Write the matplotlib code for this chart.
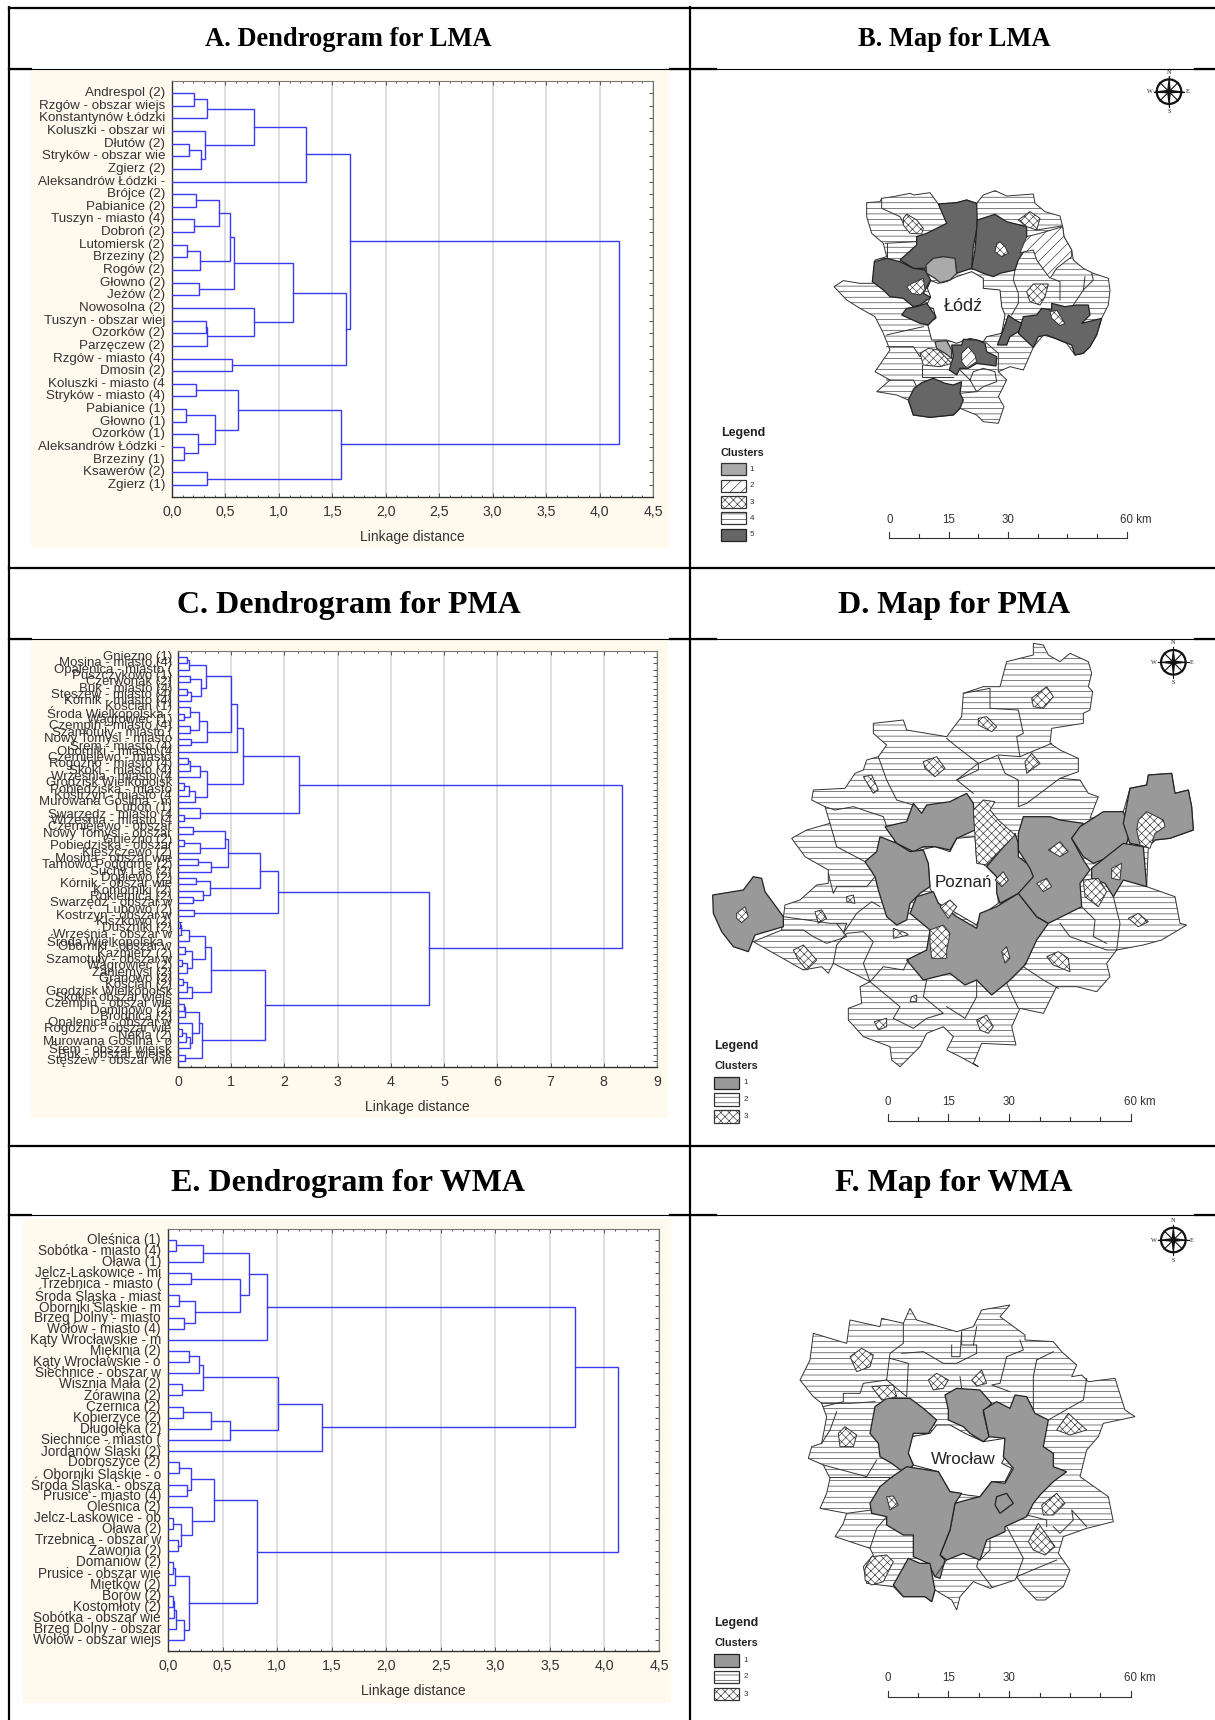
import matplotlib
matplotlib.use("Agg")
import matplotlib.pyplot as plt
from matplotlib.patches import Polygon, Rectangle, Circle
from matplotlib.ticker import MultipleLocator

W, H = 1215, 1720

plt.rcParams['font.family'] = ['Liberation Sans', 'DejaVu Sans']
plt.rcParams['hatch.linewidth'] = 0.45

# ---- dendrogram data: (height, left, right), ints are leaf positions
labels_a = ["Andrespol (2)", "Rzgów - obszar wiejs", "Konstantynów Łódzki", "Koluszki - obszar wi",
	"Dłutów (2)", "Stryków - obszar wie", "Zgierz (2)", "Aleksandrów Łódzki -", "Brójce (2)",
	"Pabianice (2)", "Tuszyn - miasto (4)", "Dobroń (2)", "Lutomiersk (2)", "Brzeziny (2)", "Rogów (2)",
	"Głowno (2)", "Jeżów (2)", "Nowosolna (2)", "Tuszyn - obszar wiej", "Ozorków (2)", "Parzęczew (2)",
	"Rzgów - miasto (4)", "Dmosin (2)", "Koluszki - miasto (4", "Stryków - miasto (4)", "Pabianice (1)",
	"Głowno (1)", "Ozorków (1)", "Aleksandrów Łódzki -", "Brzeziny (1)", "Ksawerów (2)", "Zgierz (1)"]
tree_a = (4.18,
	(1.665,
		(1.25, (0.77, (0.325, (0.21, 0, 1), 2), (0.31, 3, (0.275, (0.16, 4, 5), 6))), 7),
		(1.625,
			(1.135,
				(0.58, (0.54, (0.44, (0.225, 8, 9), (0.21, 10, 11)), (0.265, (0.14, 12, 13), 14)), (0.255, 15, 16)),
				(0.765, 17, (0.33, (0.315, 18, 19), 20))),
			(0.56, 21, 22))),
	(1.585,
		(0.62, (0.225, 23, 24), (0.40, (0.13, 25, 26), (0.245, 27, (0.11, 28, 29)))),
		(0.33, 30, 31)))

labels_c = ["Gniezno (1)", "Mosina - miasto (4)", "Opalenica - miasto (", "Puszczykowo (1)", "Czerwonak (2)",
	"Buk - miasto (4)", "Stęszew - miasto (4)", "Kórnik - miasto (4)", "Kościan (1)", "Środa Wielkopolska -",
	"Wągrowiec (1)", "Czempiń - miasto (4)", "Szamotuły - miasto (", "Nowy Tomyśl - miasto", "Śrem - miasto (4)",
	"Oborniki - miasto (4", "Czerniejewo - miasto", "Rogoźno - miasto (4)", "Skoki - miasto (4)",
	"Września - miasto (4", "Grodzisk Wielkopolsk", "Pobiedziska - miasto", "Kostrzyn - miasto (4",
	"Murowana Goślina - m", "Luboń (1)", "Swarzędz - miasto (4", "Września - miasto (4",
	"Czerniejewo - obszar", "Nowy Tomyśl - obszar", "Gniezno (2)", "Pobiedziska - obszar", "Kleszczewo (2)",
	"Mosina - obszar wie", "Tarnowo Podgórne (2)", "Suchy Las (2)", "Dopiewo (2)", "Kórnik - obszar wie",
	"Komorniki (2)", "Rokietnica (2)", "Swarzędz - obszar w", "Lubowo (2)", "Kostrzyn - obszar w",
	"Kiszkowo (2)", "Duszniki (2)", "Września - obszar w", "Środa Wielkopolska -", "Oborniki - obszar w",
	"Kaźmierz (2)", "Szamotuły - obszar w", "Wągrowiec (2)", "Zaniemyśl (2)", "Granowo (2)", "Kościan (2)",
	"Grodzisk Wielkopolsk", "Skoki - obszar wiejs", "Czempiń - obszar wie", "Dominowo (2)", "Brodnica (2)",
	"Opalenica - obszar w", "Rogoźno - obszar wie", "Nekla (2)", "Murowana Goślina - o", "Śrem - obszar wiejsk",
	"Buk - obszar wiejsk", "Stęszew - obszar wie"]
tree_c = (8.35,
	(2.27,
		(1.22,
			(1.11,
				(1.0,
					(0.52, (0.21, (0.16, 0, 1), 2), (0.43, (0.22, 3, 4), (0.24, (0.16, 5, 6), 7))),
					(0.54, (0.39, (0.22, 8, (0.12, 9, 10)), (0.23, 11, 12)), (0.25, 13, 14))),
				15),
			(0.54,
				(0.41, (0.23, (0.19, 16, 17), 18), 19),
				(0.325, (0.2, (0.12, 20, 21), 22), 23))),
		(0.41, 24, (0.12, 25, 26))),
	(4.71,
		(1.875,
			(1.55,
				(0.94,
					(0.89, (0.275, 27, 28), (0.41, (0.12, 29, 30), 31)),
					(0.62, (0.37, 32, 33), 34)),
				(0.6, (0.34, 35, 36), (0.47, 37, (0.29, 38, 39)))),
			(0.31, 40, 41)),
		(1.63,
			(0.62,
				(0.5,
					(0.21, (0.06, (0.03, 42, 43), 44), 45),
					(0.255, (0.14, 46, 47), (0.175, (0.08, 48, 49), 50))),
				(0.255, (0.175, (0.1, 51, 52), 53), 54)),
			(0.45,
				(0.39, (0.14, (0.12, 55, 56), 57), (0.255, 58, (0.22, (0.155, (0.08, 59, 60), 61), 62))),
				(0.14, 63, 64)))))

labels_e = ["Oleśnica (1)", "Sobótka - miasto (4)", "Oława (1)", "Jelcz-Laskowice - mi", "Trzebnica - miasto (",
	"Środa Śląska - miast", "Oborniki Śląskie - m", "Brzeg Dolny - miasto", "Wołów - miasto (4)",
	"Kąty Wrocławskie - m", "Miękinia (2)", "Kąty Wrocławskie - o", "Siechnice - obszar w", "Wisznia Mała (2)",
	"Żórawina (2)", "Czernica (2)", "Kobierzyce (2)", "Długołęka (2)", "Siechnice - miasto (",
	"Jordanów Śląski (2)", "Dobroszyce (2)", "Oborniki Śląskie - o", "Środa Śląska - obsza", "Prusice - miasto (4)",
	"Oleśnica (2)", "Jelcz-Laskowice - ob", "Oława (2)", "Trzebnica - obszar w", "Zawonia (2)", "Domaniów (2)",
	"Prusice - obszar wie", "Miętków (2)", "Borów (2)", "Kostomłoty (2)", "Sobótka - obszar wie",
	"Brzeg Dolny - obszar", "Wołów - obszar wiejs"]
tree_e = (4.12,
	(3.73,
		(0.91,
			(0.74,
				(0.32, (0.07, 0, 1), 2),
				(0.66, (0.21, 3, 4), (0.25, (0.10, 5, 6), (0.145, 7, 8)))),
			9),
		(1.415,
			(1.01,
				(0.32, (0.28, (0.19, 10, 11), 12), (0.125, 13, 14)),
				(0.565, (0.39, (0.135, 15, 16), 17), 18)),
			19)),
	(0.815,
		(0.42,
			(0.21, (0.105, 20, 21), (0.175, 22, 23)),
			(0.22, 24, (0.115, (0.05, 25, 26), (0.09, 27, 28)))),
		(0.19,
			(0.06, (0.05, 29, 30), 31),
			(0.15, (0.07, (0.055, (0.05, 32, 33), 34), 35), 36))))

ticks_half = ["0,0", "0,5", "1,0", "1,5", "2,0", "2,5", "3,0", "3,5", "4,0", "4,5"]
ticks_int = ["0", "1", "2", "3", "4", "5", "6", "7", "8", "9"]

# ---- map data, in units of a 1575x1500 grid laid over each map cell
b_outer = [(530,428),(570,425),(575,415),(610,410),(660,400),(672,405),(720,398),(745,432),(800,428),(830,420),(860,430),(880,405),(915,392),(950,408),(1030,402),(1035,430),(1065,455),(1110,468),(1118,500),(1122,530),(1145,570),(1150,600),(1180,625),(1210,640),(1255,655),(1260,690),(1255,735),(1235,775),(1220,825),(1200,860),(1180,880),(1155,885),(1130,850),(1095,835),(1060,825),(1030,862),(1000,930),(960,920),(925,935),(950,960),(925,1010),(942,1040),(925,1090),(880,1085),(860,1065),(810,1045),(790,1065),(720,1072),(670,1065),(655,1020),(620,1005),(560,995),(600,960),(555,935),(600,870),(580,820),(555,770),(510,745),(470,720),(432,680),(460,662),(510,670),(550,670),(555,600),(590,590),(580,550),(545,520),(530,470)]
b_center = [(722,662),(745,670),(770,665),(800,650),(845,635),(880,655),(880,685),(930,690),(935,740),(945,765),(935,820),(890,830),(880,845),(840,835),(800,850),(770,840),(725,840),(712,790),(738,775),(730,745),(708,740),(722,710),(712,685)]
b_dark = [
	[(745,432),(800,428),(830,420),(860,430),(862,500),(850,560),(845,625),(800,640),(795,600),(760,590),(725,600),(705,625),(670,625),(630,600),(680,555),(680,530),(710,520),(770,490)],
	[(862,480),(915,463),(950,485),(1010,500),(1010,560),(985,600),(975,630),(930,640),(910,650),(880,640),(845,625),(855,570)],
	[(553,605),(590,595),(630,605),(670,625),(705,630),(722,660),(700,700),(722,712),(690,735),(670,740),(640,715),(600,710),(580,690),(547,665)],
	[(650,745),(680,740),(710,730),(738,770),(715,795),(690,790),(635,765)],
	[(1000,770),(1040,765),(1055,745),(1085,750),(1085,730),(1125,740),(1160,735),(1195,735),(1200,765),(1175,790),(1235,775),(1220,825),(1200,860),(1180,880),(1155,885),(1145,855),(1095,835),(1070,825),(1045,830),(1030,862),(985,820)],
	[(955,765),(975,780),(995,790),(985,815),(960,830),(950,855),(922,855),(940,810)],
	[(785,855),(815,855),(820,838),(860,840),(885,850),(890,875),(920,890),(918,918),(860,910),(835,925),(810,925),(800,945),(778,930),(790,890)],
	[(672,985),(695,968),(730,955),(765,970),(790,975),(815,965),(810,1000),(820,1020),(810,1045),(790,1065),(720,1072),(670,1065),(655,1020)],
]
b_light = [
	[(708,615),(730,595),(760,590),(795,595),(800,640),(780,660),(750,668),(735,655),(710,640)],
	[(735,845),(770,842),(785,870),(785,895),(765,880),(740,865)],
]
b_diag = [
	[(990,578),(1010,530),(1050,520),(1118,500),(1122,530),(1145,570),(1145,590),(1100,625),(1080,655),(1065,635),(1040,600),(1030,570)],
	[(815,880),(835,860),(855,885),(860,905),(830,925),(815,905)],
]
b_cross = [
	[(640,475),(650,462),(680,480),(700,505),(695,522),(660,520),(640,495)],
	[(920,550),(930,545),(945,560),(955,580),(935,590),(915,575)],
	[(985,480),(1020,455),(1050,475),(1040,510),(1010,500)],
	[(650,680),(670,668),(700,655),(705,690),(690,705),(665,700)],
	[(1010,695),(1030,672),(1075,672),(1065,710),(1050,735),(1020,725)],
	[(1080,755),(1100,750),(1125,790),(1110,797),(1085,775)],
	[(690,880),(715,865),(745,870),(785,910),(750,920),(700,915)],
]
b_lines = [
	[(575,415),(575,445),(630,470),(640,490)],
	[(585,550),(680,545)],
	[(590,595),(590,550)],
	[(1040,510),(1115,498)],
	[(975,630),(970,660),(985,700),(985,730),(965,765)],
	[(1085,655),(1110,665),(1110,720)],
	[(1185,650),(1180,690),(1150,735)],
	[(1205,640),(1210,660),(1180,690)],
	[(590,825),(610,820),(700,800)],
	[(590,860),(670,860),(690,890)],
	[(695,915),(695,950),(790,950)],
	[(810,930),(840,960),(860,995),(880,980),(920,965),(915,935),(880,925),(850,935),(840,960)],
	[(810,1000),(860,995)],
	[(590,960),(670,960),(680,980)],
	[(885,845),(925,880),(925,935)],
]

d_outer = [(1030,40),(1060,45),(1075,75),(1110,95),(1140,70),(1195,95),(1205,130),(1195,170),(1208,185),(1200,240),(1180,250),(1180,280),(1085,295),(1080,340),(1110,360),(1165,385),(1165,425),(1110,445),(1170,450),(1195,490),(1225,500),(1200,565),(1300,545),(1320,475),(1370,465),(1375,435),(1445,430),(1455,490),(1495,480),(1505,530),(1510,600),(1440,625),(1395,630),(1375,650),(1370,770),(1455,800),(1470,880),(1490,885),(1415,930),(1360,945),(1280,960),(1250,1000),(1260,1040),(1220,1085),(1160,1070),(1100,1070),(1060,1150),(990,1135),(965,1190),(978,1245),(875,1240),(850,1300),(865,1310),(810,1280),(770,1260),(790,1220),(760,1190),(710,1210),(690,1250),(630,1310),(605,1290),(600,1250),(520,1220),(475,1170),(475,1135),(515,1120),(510,1070),(540,1055),(430,1000),(415,1030),(395,1010),(340,1020),(190,935),(275,900),(285,825),(330,810),(380,765),(415,760),(415,720),(345,680),(305,625),(350,600),(420,580),(405,530),(365,510),(370,480),(465,475),(495,430),(520,420),(530,390),(565,380),(590,345),(550,310),(550,280),(640,270),(650,300),(770,320),(815,260),(820,190),(880,170),(930,170),(950,95),(1030,75)]
d_center = [(735,650),(780,665),(800,625),(855,620),(860,690),(890,710),(920,740),(925,820),(875,855),(860,885),(800,850),(745,820),(720,775),(715,700),(690,660)]
d_gray = [
	[(68,795),(160,780),(190,740),(215,745),(225,785),(280,860),(280,890),(195,915),(175,965),(130,950),(95,905),(70,850)],
	[(585,590),(650,575),(670,520),(695,550),(710,525),(780,515),(830,490),(850,520),(855,600),(800,625),(780,660),(735,650),(700,650),(670,665),(620,640)],
	[(570,620),(620,640),(660,665),(700,660),(715,700),(720,770),(690,790),(660,820),(650,870),(620,885),(590,860),(565,780),(555,740),(525,695),(560,665)],
	[(660,850),(680,800),(730,785),(745,820),(800,860),(860,895),(870,850),(920,830),(985,790),(1040,860),(1075,880),(1040,930),(1010,995),(1000,1010),(960,1050),(905,1095),(860,1050),(825,1065),(780,1030),(700,1050),(650,990),(710,960),(720,900)],
	[(890,710),(975,610),(985,640),(985,680),(1030,715),(1040,760),(985,790),(930,820),(920,790),(920,740)],
	[(1000,560),(1080,560),(1110,570),(1180,580),(1145,625),(1180,690),(1200,720),(1170,760),(1175,830),(1075,880),(1040,860),(985,790),(1030,740),(1020,715),(985,660),(985,610)],
	[(1170,590),(1240,545),(1300,545),(1320,605),(1310,640),(1260,680),(1210,700),(1180,680),(1145,625)],
	[(1205,715),(1300,640),(1360,650),(1370,770),(1300,750),(1270,800),(1245,760),(1205,745)],
	[(1320,475),(1370,465),(1375,435),(1445,430),(1455,490),(1495,480),(1505,530),(1510,600),(1440,625),(1395,630),(1375,650),(1320,640),(1300,580)],
]
d_cross = [
	[(850,540),(880,510),(915,515),(900,540),(925,570),(975,615),(890,705),(860,700),(855,620)],
	[(140,850),(165,830),(175,860),(155,878),(140,865)],
	[(375,845),(395,840),(410,865),(385,880)],
	[(310,960),(340,945),(380,990),(350,1020),(325,990)],
	[(470,800),(490,795),(495,820),(470,815)],
	[(520,440),(545,435),(565,480),(550,490)],
	[(700,395),(740,380),(765,415),(735,440),(705,415)],
	[(865,265),(890,260),(920,290),(905,305),(865,285)],
	[(1025,205),(1070,170),(1090,200),(1060,235),(1030,230)],
	[(1005,395),(1025,370),(1050,400),(1010,430)],
	[(1075,660),(1110,635),(1135,665),(1110,680)],
	[(1040,760),(1070,745),(1085,770),(1060,785)],
	[(915,750),(940,725),(955,750),(935,770)],
	[(750,830),(780,810),(800,830),(775,865)],
	[(720,900),(760,885),(780,910),(770,960),(770,985),(725,985),(720,940)],
	[(935,965),(950,950),(960,985),(945,1000)],
	[(610,895),(650,910),(655,915),(610,925)],
	[(1180,750),(1225,745),(1250,785),(1225,830),(1185,800)],
	[(1345,570),(1370,545),(1420,570),(1425,590),(1395,610),(1380,655),(1350,645),(1340,600)],
	[(1265,715),(1295,700),(1290,750),(1265,745)],
	[(1315,865),(1345,850),(1375,875),(1345,890)],
	[(1070,980),(1105,965),(1135,985),(1140,1025),(1090,1005)],
	[(665,1100),(680,1095),(680,1115),(660,1115)],
	[(553,1175),(590,1165),(590,1190),(565,1200)],
	[(860,1170),(890,1155),(910,1190),(895,1210),(870,1200)],
]
d_lines = [
	[(820,190),(900,175),(900,235),(985,240),(1000,310),(980,320),(990,380),(1085,340)],
	[(770,325),(800,350),(865,400),(865,420),(800,450),(850,490)],
	[(565,380),(590,450),(620,510),(670,525)],
	[(405,530),(435,540),(490,530),(580,560),(590,590)],
	[(420,580),(440,650),(525,695)],
	[(415,730),(430,790),(440,770),(530,770),(555,740)],
	[(925,380),(945,430),(985,450),(985,530),(1010,520),(1110,445)],
	[(800,450),(865,400),(925,375),(990,380)],
	[(280,860),(420,880),(470,880),(460,910),(500,850),(545,815),(570,830)],
	[(440,880),(470,920),(410,940),(370,920),(340,900),(275,900)],
	[(430,1000),(440,945),(470,910),(520,905),(550,935),(520,1000),(540,1055),(580,1010),(640,1020),(655,990)],
	[(540,1055),(630,1130),(610,1165),(670,1195),(710,1165),(760,1150),(700,1100),(710,1050)],
	[(860,1050),(860,1100),(825,1165),(770,1130)],
	[(950,1060),(985,1135)],
	[(950,1060),(1010,1000)],
	[(1110,880),(1140,920),(1250,960),(1280,960)],
	[(1175,830),(1215,870),(1210,920),(1250,940)],
	[(1270,800),(1290,880),(1280,960)],
	[(1000,1010),(1060,1050),(1105,1075)],
]

f_outer = [(370,340),(470,370),(480,300),(570,320),(575,295),(640,310),(660,265),(680,300),(800,335),(850,320),(875,270),(960,255),(930,290),(1005,345),(1005,360),(1090,365),(1115,395),(1160,435),(1145,470),(1175,465),(1195,485),(1275,475),(1305,570),(1335,590),(1240,610),(1225,650),(1190,690),(1170,770),(1255,830),(1270,905),(1190,925),(1120,950),(1105,1000),(1140,1050),(1120,1100),(1065,1140),(1040,1140),(1000,1100),(980,1070),(975,1080),(900,1105),(850,1085),(810,1130),(800,1170),(785,1140),(735,1110),(725,1145),(705,1130),(640,1130),(610,1100),(530,1090),(520,1040),(550,1005),(540,985),(435,950),(460,910),(470,880),(390,865),(410,820),(420,775),(400,735),(355,715),(365,680),(395,670),(410,590),(395,550),(370,530),(330,480),(360,420)]
f_center = [(665,650),(720,640),(740,615),(780,615),(825,640),(880,665),(945,655),(945,710),(935,730),(965,745),(945,785),(905,785),(870,830),(830,825),(780,815),(745,755),(670,735),(655,700),(650,690)]
f_gray = [
	[(555,560),(590,535),(660,535),(700,565),(740,600),(715,640),(670,640),(655,700),(670,735),(645,760),(605,730),(570,710),(565,670),(540,640)],
	[(765,525),(800,505),(870,510),(905,550),(880,575),(897,650),(880,665),(840,640),(820,620),(775,600),(775,570)],
	[(880,570),(920,545),(960,565),(975,525),(1010,530),(1035,580),(1075,600),(1060,680),(1090,700),(1090,740),(1130,755),(1090,785),(1050,825),(1030,850),(1010,890),(945,920),(945,935),(890,960),(870,1020),(820,1000),(770,1020),(750,1005),(780,930),(795,850),(830,840),(870,830),(905,785),(945,790),(970,745),(940,710),(945,655),(897,650)],
	[(600,775),(650,740),(745,755),(780,815),(815,820),(795,850),(780,930),(750,1005),(765,1020),(750,1075),(735,1070),(715,1030),(670,1010),(670,945),(640,945),(590,915),(590,890),(545,880),(540,850),(570,800)],
	[(655,1015),(690,1030),(720,1030),(735,1110),(725,1145),(705,1130),(640,1130),(610,1095)],
	[(920,830),(950,820),(970,850),(930,880),(915,855)],
]
f_cross = [
	[(480,410),(515,385),(550,405),(540,440),(500,455)],
	[(715,480),(740,460),(775,480),(760,505),(730,510)],
	[(845,480),(875,450),(890,490),(860,498)],
	[(545,500),(610,495),(620,530),(575,540)],
	[(445,640),(465,620),(500,645),(490,680),(450,680)],
	[(590,830),(610,828),(625,855),(600,870)],
	[(1100,630),(1135,580),(1190,630),(1140,645)],
	[(1055,855),(1100,820),(1125,850),(1090,885),(1060,885)],
	[(1015,965),(1045,910),(1095,980),(1065,1005),(1030,990)],
	[(545,1010),(590,1005),(610,1025),(580,1085),(545,1095),(525,1080),(525,1045)],
]
f_lines = [
	[(640,310),(640,370),(600,400),(590,480),(650,530),(655,430),(600,415)],
	[(635,400),(700,395),(760,430),(800,430),(860,400),(860,375),(815,375),(815,340)],
	[(785,375),(785,410),(810,410),(815,335)],
	[(860,320),(850,375)],
	[(810,470),(815,505)],
	[(990,360),(1000,390),(950,410),(930,490),(905,495),(960,515)],
	[(1040,420),(1030,470),(1030,570)],
	[(1090,395),(1040,420)],
	[(1190,475),(1180,540),(1075,600)],
	[(590,480),(520,490),(510,520),(460,520),(460,545),(400,560)],
	[(555,545),(480,550),(395,550)],
	[(440,575),(420,630),(395,670)],
	[(400,735),(530,770),(560,720)],
	[(420,770),(605,770)],
	[(470,880),(545,870)],
	[(590,890),(560,925),(540,985)],
	[(735,1070),(770,1020)],
	[(865,1020),(860,1040),(905,1100)],
	[(900,960),(900,990),(870,1020)],
	[(950,920),(1000,1015),(980,1070),(1100,1020)],
	[(1010,885),(1070,900),(1070,920)],
	[(1090,920),(1110,940),(1150,900),(1145,870),(1190,920)],
]

# legend swatches per map: top, bottom of each row
b_legend_rows = [(1210,1245),(1260,1295),(1308,1345),(1357,1393),(1407,1443)]
d_legend_rows = [(1340,1378),(1390,1428),(1440,1478)]
f_legend_rows = [(1302,1340),(1352,1390),(1403,1441)]

STYLES = {
	'dark': dict(facecolor='#666666', edgecolor='#222222'),
	'gray': dict(facecolor='#999999', edgecolor='#222222'),
	'light': dict(facecolor='#aaaaaa', edgecolor='#333333'),
	'hline': dict(facecolor='white', edgecolor='#333333', hatch='---'),
	'cross': dict(facecolor='white', edgecolor='#333333', hatch='xxxx'),
	'diag': dict(facecolor='white', edgecolor='#333333', hatch='///'),
	'white': dict(facecolor='white', edgecolor='#222222'),
}


def px_axes(fig, x0, y0, x1, y1):
	return fig.add_axes([x0 / W, 1 - y1 / H, (x1 - x0) / W, (y1 - y0) / H])


def draw_node(ax, node):
	if isinstance(node, int):
		return 0.0, float(node)
	h, left, right = node
	hl, yl = draw_node(ax, left)
	hr, yr = draw_node(ax, right)
	ax.plot([hl, h, h, hr], [yl, yl, yr, yr], color='#3a3af5', lw=1.0, solid_joinstyle='miter', zorder=3)
	return h, (yl + yr) / 2


def dendrogram(fig, box, labels, tree, ticks, step, minor, fs, lab_x):
	ax = px_axes(fig, *box)
	n = len(labels)
	ax.set_xlim(0, (len(ticks) - 1) * step)
	ax.set_ylim(n - 1 + 0.95, -0.95)
	ax.grid(axis='x', color='#d4d4d4', lw=1.1, zorder=0)
	ax.set_axisbelow(True)
	draw_node(ax, tree)
	ax.set_xticks([i * step for i in range(len(ticks))])
	ax.set_xticklabels(ticks, fontsize=10.2, color='#333333')
	ax.xaxis.set_minor_locator(MultipleLocator(minor))
	ax.set_yticks(range(n))
	ax.set_yticklabels([])
	ax.tick_params(axis='both', which='both', direction='in', top=True, right=True, length=3, width=0.7, color='#555555')
	ax.tick_params(axis='x', which='minor', length=1.5)
	ax.tick_params(axis='x', which='major', pad=6)
	for side in ('left', 'bottom'):
		ax.spines[side].set_color('#333333')
		ax.spines[side].set_linewidth(1.0)
	for side in ('top', 'right'):
		ax.spines[side].set_color('#777777')
		ax.spines[side].set_linewidth(0.8)
	ax.set_xlabel("Linkage distance", fontsize=10, color='#333333', labelpad=8)
	# row labels, overlapping where the rows are tight, as in the source
	for i, name in enumerate(labels):
		ax.annotate(name, xy=(0, i), xycoords=ax.get_yaxis_transform(), xytext=(lab_x, 0),
			textcoords='offset pixels', ha='right', va='center', fontsize=fs, color='#333333', annotation_clip=False)
	return ax


def compass(ax, cx, cy, r):
	ax.add_patch(Circle((cx, cy), r * 0.8, fill=False, ec='#111111', lw=1.6))
	for dx, dy in [(1, 0), (0, 1), (0.6, 0.6), (0.6, -0.6)]:
		ax.plot([cx - dx * r, cx + dx * r], [cy - dy * r, cy + dy * r], color='#111111', lw=0.8)
	for dx, dy in [(1, 0), (-1, 0), (0, 1), (0, -1)]:
		ax.add_patch(Polygon([(cx + dx * r * 1.05, cy + dy * r * 1.05), (cx - dy * 6, cy + dx * 6), (cx + dy * 6, cy - dx * 6)],
			closed=True, facecolor='#111111', edgecolor='none'))
	for t, x, y in [('N', cx, cy - r - 12), ('S', cx, cy + r + 14), ('W', cx - r - 12, cy), ('E', cx + r + 10, cy)]:
		ax.text(x, y, t, fontsize=4.5, family='Liberation Serif', ha='center', va='center', color='#222222')


def scale_bar(ax, x0, x1, y, label_y):
	step = (x1 - x0) / 8
	ax.plot([x0, x1], [y, y], color='#333333', lw=0.8)
	for i in range(9):
		tall = i in (0, 2, 4, 8)
		ax.plot([x0 + i * step] * 2, [y, y - (20 if tall else 12)], color='#333333', lw=0.8)
	for i, t in [(0, '0'), (2, '15'), (4, '30')]:
		ax.text(x0 + i * step, label_y, t, fontsize=8.3, ha='center', va='center', color='#333333')
	ax.text(x1 + 27, label_y, '60 km', fontsize=8.3, ha='center', va='center', color='#333333')


def legend(ax, x0, rows, styles, leg_y, clu_y):
	ax.text(x0, leg_y, 'Legend', fontsize=9, fontweight='bold', va='center', color='#222222')
	ax.text(x0, clu_y, 'Clusters', fontsize=7.8, fontweight='bold', va='center', color='#222222')
	for i, (top, bot) in enumerate(rows):
		ax.add_patch(Polygon([(x0, top), (x0 + 75, top), (x0 + 75, bot), (x0, bot)], closed=True, lw=0.9, **STYLES[styles[i]]))
		ax.text(x0 + 94, (top + bot) / 2, str(i + 1), fontsize=5.8, ha='center', va='center', color='#333333')


def map_panel(fig, x0, y0, outer, center, layers, lines, name, name_xy, name_fs):
	ax = px_axes(fig, x0, y0, x0 + 525, y0 + 500)
	ax.set_xlim(0, 1575)
	ax.set_ylim(1500, 0)
	ax.axis('off')
	ax.patch.set_alpha(0)
	ax.add_patch(Polygon(outer, closed=True, lw=0.7, **STYLES['hline']))
	for seg in lines:
		ax.plot([p[0] for p in seg], [p[1] for p in seg], color='#333333', lw=0.7)
	ax.add_patch(Polygon(center, closed=True, lw=0.7, **STYLES['white']))
	for style, polys in layers:
		for poly in polys:
			ax.add_patch(Polygon(poly, closed=True, lw=0.9 if style in ('dark', 'gray', 'light') else 0.7, **STYLES[style]))
	ax.text(name_xy[0], name_xy[1], name, fontsize=name_fs, ha='center', va='center', color='#222222')
	return ax


def table(bg):
	cell_tops = [8, 69, 568, 639, 1146, 1215]
	for y in cell_tops:
		thin = y in (69, 639, 1215)
		bg.plot([9, W], [y, y], color='black', lw=0.8 if thin else 1.6, zorder=5)
		if thin:
			bg.plot([9, 31], [y, y], color='black', lw=1.6, zorder=5)
			bg.plot([670, 716], [y, y], color='black', lw=1.6, zorder=5)
			bg.plot([1195, W], [y, y], color='black', lw=1.6, zorder=5)
	bg.plot([9, 9], [7, H], color='black', lw=1.6, zorder=5)
	bg.plot([690, 690], [7, H], color='black', lw=1.6, zorder=5)


def main():
	fig = plt.figure(figsize=(W / 100, H / 100), dpi=100, facecolor='white')
	bg = fig.add_axes([0, 0, 1, 1])
	bg.set_xlim(0, W)
	bg.set_ylim(H, 0)
	bg.axis('off')
	for x0, y0, x1, y1 in [(31, 70, 669, 548), (31, 640, 668, 1118), (23, 1219, 671, 1703)]:
		bg.add_patch(Rectangle((x0, y0), x1 - x0, y1 - y0, facecolor='#fff9ee', edgecolor='none'))
	table(bg)

	title_kw = dict(family='Liberation Serif', fontweight='bold', ha='center', va='center', color='black')
	bg.text(348, 40, "A. Dendrogram for LMA", fontsize=19.1, **title_kw)
	bg.text(954, 40, "B. Map for LMA", fontsize=19.1, **title_kw)
	bg.text(349, 606, "C. Dendrogram for PMA", fontsize=23, **title_kw)
	bg.text(954, 606, "D. Map for PMA", fontsize=23, **title_kw)
	bg.text(348, 1184, "E. Dendrogram for WMA", fontsize=23, **title_kw)
	bg.text(954, 1184, "F. Map for WMA", fontsize=23, **title_kw)

	dendrogram(fig, (172, 81, 653, 497), labels_a, tree_a, ticks_half, 0.5, 0.1, 9.6, -7)
	dendrogram(fig, (178, 651, 657, 1067), labels_c, tree_c, ticks_int, 1, 0.25, 9.5, -6)
	dendrogram(fig, (168, 1229, 659, 1651), labels_e, tree_e, ticks_half, 0.5, 0.1, 9.8, -7)

	ax = map_panel(fig, 690, 60, b_outer, b_center,
		[('dark', b_dark), ('light', b_light), ('diag', b_diag), ('cross', b_cross)], b_lines, 'Łódź', (820, 740), 13)
	legend(ax, 92, b_legend_rows, ['light', 'diag', 'cross', 'hline', 'dark'], 1120, 1178)
	scale_bar(ax, 598, 1310, 1435, 1380)
	compass(ax, 1437, 95, 46)

	ax = map_panel(fig, 690, 630, d_outer, d_center,
		[('gray', d_gray), ('cross', d_cross)], d_lines, 'Poznań', (820, 757), 12.2)
	legend(ax, 73, d_legend_rows, ['gray', 'hline', 'cross'], 1248, 1308)
	scale_bar(ax, 593, 1322, 1472, 1415)
	compass(ax, 1450, 97, 46)

	ax = map_panel(fig, 690, 1220, f_outer, f_center,
		[('gray', f_gray), ('cross', f_cross)], f_lines, 'Wrocław', (820, 718), 12.2)
	legend(ax, 73, f_legend_rows, ['gray', 'hline', 'cross'], 1210, 1270)
	scale_bar(ax, 593, 1322, 1432, 1375)
	compass(ax, 1450, 60, 46)

	fig.savefig('out.png', dpi=100)


if __name__ == '__main__':
	main()
